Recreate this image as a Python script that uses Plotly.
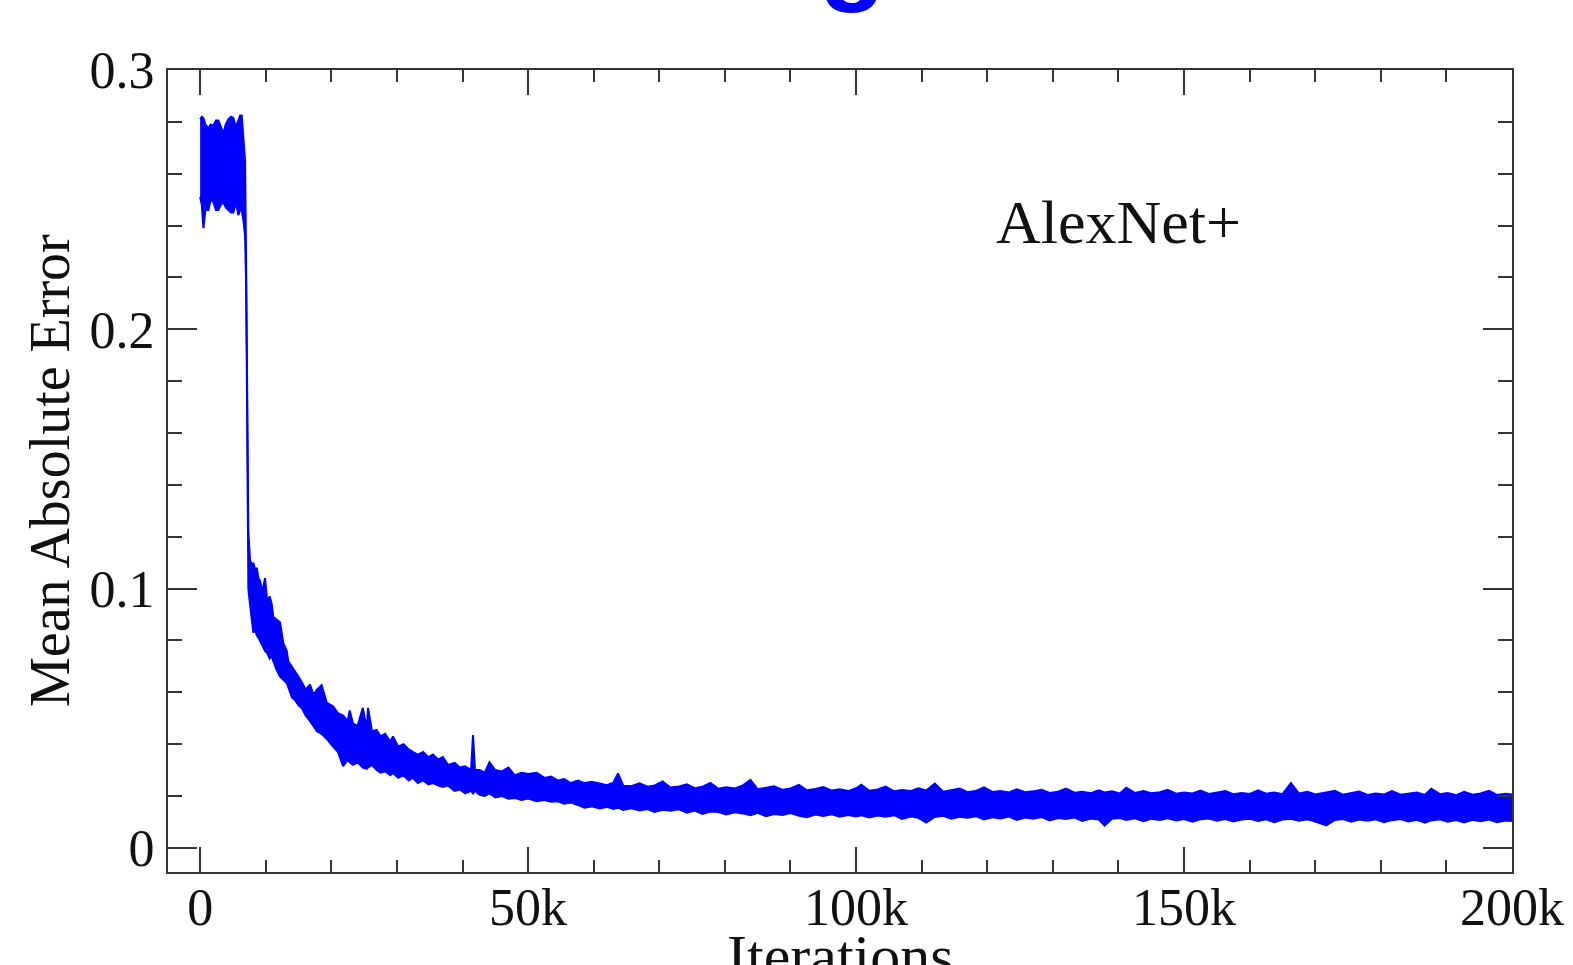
import plotly.graph_objects as go

# ---- data: envelope (upper / lower) of the noisy error band ----
iters_k = [
    0, 0.25, 0.5, 0.8, 1.27, 1.6, 2.03, 2.4, 2.79, 3.15, 3.55, 3.9, 4.31, 4.7, 5.07, 5.45, 5.83, 6.1, 6.34, 6.6, 6.85,
    7.0, 7.1, 7.23, 7.35,
    7.6, 7.9, 8.11, 8.4, 8.63, 8.9, 9.13, 9.5, 9.89, 10.24, 10.6, 10.91, 11.16, 11.6, 12.18, 12.68, 13.2, 13.44, 14.0,
    14.46, 15.0, 15.48, 16.1, 16.74, 17.3, 17.8, 18.52, 19.3,
    20.3, 21.0, 21.8, 22.5, 22.8, 23.3, 24.0, 24.8, 25.4, 25.6, 26.2, 26.9, 27.5, 28.2, 29.0, 29.4, 30.2, 31.0, 31.8,
    32.4, 33.2, 34.0, 34.8, 35.5, 36.3, 37.0, 37.8, 38.8, 39.6, 40.4, 41.3, 41.6, 41.9, 42.6, 43.4, 44.1, 45.0, 46.0,
    47.0, 48.0, 49.0, 50.0, 51.3, 52.5, 53.5, 54.5, 55.5, 56.5, 57.6, 58.6, 59.7,
    60.9, 62.0, 63.0, 63.7, 64.5, 65.7, 67.0, 68.2, 69.3, 70.5, 71.7, 73.0, 74.2, 75.4, 76.6, 77.8, 79.0, 80.2, 81.5,
    82.7, 83.9, 85.0, 86.3, 87.5, 88.8, 90.0, 91.3, 92.5, 93.8, 95.0, 96.3, 97.5, 98.8,
    100.0, 100.8, 102.0, 103.3, 104.5, 105.8, 107.0, 108.3, 109.5, 110.7, 112.0, 113.3, 114.5, 115.8, 117.0, 118.3,
    119.5, 120.8, 122.0, 123.3, 124.5, 125.8, 127.0, 128.3, 129.5, 130.8, 132.0, 133.3, 134.5, 135.8, 137.0, 137.9,
    139.0, 140.2, 141.2, 142.5, 143.8, 145.0, 146.3, 147.5, 148.8,
    150.0, 151.3, 152.5, 153.8, 155.0, 156.3, 157.5, 158.8, 160.0, 161.3, 162.5, 163.8, 165.0, 166.3, 167.5, 168.8,
    170.0, 171.7, 173.0, 174.2, 175.5, 176.7, 178.0, 179.2, 180.5, 181.7, 183.0, 184.2, 185.5, 186.7, 187.7, 189.0,
    190.2, 191.5, 192.7, 194.0, 195.2, 196.5, 197.7, 199.0, 200.0,
]

mae_upper = [
    .281, .282, .2815, .279, .2775, .279, .2785, .2805, .2805, .278, .2755, .279, .281, .282, .2815, .278, .2805, .2825, .2825, .275, .265,
    .228, .200, .160, .122,
    .111, .109, .110, .107, .108, .104, .103, .099, .104, .095, .097, .094, .089, .088, .087, .079, .076, .072, .070,
    .068, .066, .064, .061, .063, .059, .061, .0628, .056,
    .0545, .052, .051, .049, .053, .048, .047, .054, .046, .054, .045, .0455, .043, .044, .041, .043, .039, .040, .038,
    .037, .036, .037, .035, .036, .034, .035, .032, .0328, .031, .0315, .030, .0435, .030, .030, .029, .033, .030, .0295,
    .031, .028, .029, .0285, .029, .027, .0275, .026, .0265, .025, .026, .025, .0255,
    .0248, .0242, .0251, .0287, .0240, .0238, .0249, .0236, .0241, .0256, .0233, .0237, .0245, .0230, .0236, .0251, .0228, .0234, .0229,
    .0240, .0262, .0226, .0232, .0238, .0224, .0229, .0243, .0222, .0227, .0235, .0221, .0226, .0219,
    .0230, .0244, .0220, .0225, .0236, .0218, .0223, .0219, .0230, .0221, .0248, .0217, .0222, .0229, .0215, .0220,
    .0233, .0216, .0219, .0214, .0226, .0215, .0218, .0224, .0212, .0217, .0229, .0213, .0216, .0211, .0222, .0214,
    .0218, .0210, .0232, .0212, .0219, .0211, .0215, .0224, .0209,
    .0214, .0210, .0221, .0208, .0213, .0219, .0207, .0212, .0208, .0222, .0209, .0214, .0207, .0250, .0210, .0216,
    .0206, .0213, .0220, .0205, .0211, .0217, .0204, .0210, .0206, .0219, .0205, .0209, .0214, .0204, .0228, .0207,
    .0212, .0203, .0216, .0205, .0210, .0220, .0204, .0209, .0206,
]

mae_lower = [
    .251, .248, .239, .246, .246, .250, .249, .246, .246, .248, .249, .247, .246, .245, .245, .249, .244, .246, .246, .242, .236,
    .218, .190, .150, .100,
    .094, .088, .083, .084, .082, .081, .080, .078, .076, .075, .073, .074, .072, .069, .066, .065, .0636, .062, .058,
    .057, .055, .054, .051, .049, .047, .045, .044, .042,
    .039, .037, .0315, .034, .033, .032, .033, .031, .0305, .031, .032, .030, .029, .0295, .028, .029, .027, .028, .026,
    .027, .025, .026, .0245, .025, .024, .0235, .024, .022, .0225, .021, .022, .021, .022, .0205, .020, .021, .0195, .020,
    .019, .0192, .0185, .019, .018, .0185, .0178, .018, .017, .0175, .0165, .0155, .016,
    .0152, .0158, .0150, .0155, .0146, .0153, .0144, .0150, .0139, .0147, .0143, .0149, .0136, .0144, .0131, .0140, .0138, .0129, .0137,
    .0133, .0126, .0135, .0122, .0131, .0127, .0134, .0124, .0118, .0129, .0123, .0130, .0120, .0127,
    .0121, .0126, .0117, .0125, .0120, .0126, .0112, .0121, .0116, .0098, .0119, .0124, .0113, .0120, .0116, .0122,
    .0110, .0118, .0113, .0121, .0108, .0117, .0112, .0119, .0106, .0115, .0111, .0117, .0104, .0113, .0109, .0086,
    .0112, .0115, .0108, .0114, .0103, .0112, .0108, .0114, .0106,
    .0111, .0101, .0110, .0113, .0105, .0111, .0102, .0109, .0112, .0104, .0110, .0099, .0109, .0112, .0105, .0110,
    .0102, .0087, .0108, .0111, .0101, .0109, .0105, .0110, .0099, .0107, .0111, .0102, .0108, .0097, .0106, .0110,
    .0101, .0107, .0098, .0108, .0103, .0109, .0099, .0106, .0104,
]

x_tick_vals = [0, 50000, 100000, 150000, 200000]
x_tick_text = ["0", "50k", "100k", "150k", "200k"]
y_tick_vals = [0, 0.1, 0.2, 0.3]
y_tick_text = ["0", "0.1", "0.2", "0.3"]

assert len(iters_k) == len(mae_upper) == len(mae_lower)
iters = [v * 1000 for v in iters_k]

BLUE = "#0000ff"
AX = "#333333"
TXT = "#111111"
SERIF = "Liberation Serif, Times New Roman, serif"

fig = go.Figure()
fig.add_trace(go.Scatter(x=iters, y=mae_lower, mode="lines",
                         line=dict(color=BLUE, width=2), showlegend=False, hoverinfo="skip"))
fig.add_trace(go.Scatter(x=iters, y=mae_upper, mode="lines", fill="tonexty", fillcolor=BLUE,
                         line=dict(color=BLUE, width=2), showlegend=False, name="AlexNet+"))

fig.add_annotation(x=140000, y=0.2412, xref="x", yref="y", text="AlexNet+", showarrow=False,
                   font=dict(family=SERIF, size=62, color=TXT))

# axis titles
fig.add_annotation(x=0.5, y=0, xref="paper", yref="paper", yanchor="top", yshift=-49,
                   text="Iterations", showarrow=False, font=dict(family=SERIF, size=60, color=TXT))
fig.add_annotation(x=(50 - 168) / 1344, y=0.5, xref="paper", yref="paper", xanchor="center", yanchor="middle",
                   textangle=-90, text="Mean Absolute Error", showarrow=False,
                   font=dict(family=SERIF, size=56, color=TXT))

# fragment of the (cut off) slide title above the chart
fig.add_annotation(x=(852 - 168) / 1344, xref="paper", y=1 + 55 / 802, yref="paper", yanchor="bottom",
                   text="<b>g</b>", showarrow=False,
                   font=dict(family="Liberation Sans, Arial, sans-serif", size=110, color=BLUE))

common = dict(showline=True, linecolor=AX, linewidth=2, mirror="allticks", ticks="inside",
              tickcolor=AX, tickwidth=2, showgrid=False, zeroline=False,
              tickfont=dict(family=SERIF, size=52, color=TXT))

fig.update_xaxes(range=[-4900, 200000], tickvals=x_tick_vals, ticktext=x_tick_text, ticklen=25,
                 minor=dict(dtick=10000, tick0=0, ticks="inside", ticklen=12, tickwidth=2, tickcolor=AX, showgrid=False),
                 ticklabelstandoff=-11, **common)
fig.update_yaxes(range=[-0.0093, 0.3], tickvals=y_tick_vals, ticktext=y_tick_text, ticklen=29,
                 minor=dict(dtick=0.02, tick0=0, ticks="inside", ticklen=14, tickwidth=2, tickcolor=AX, showgrid=False),
                 ticklabelstandoff=1, **common)

fig.update_layout(width=1573, height=965, autosize=False,
                  margin=dict(l=168, r=61, t=70, b=93, autoexpand=False),
                  paper_bgcolor="white", plot_bgcolor="white", showlegend=False)

fig.write_html("out.html", config={"displayModeBar": False},
               post_script="document.body.style.margin='0';")
